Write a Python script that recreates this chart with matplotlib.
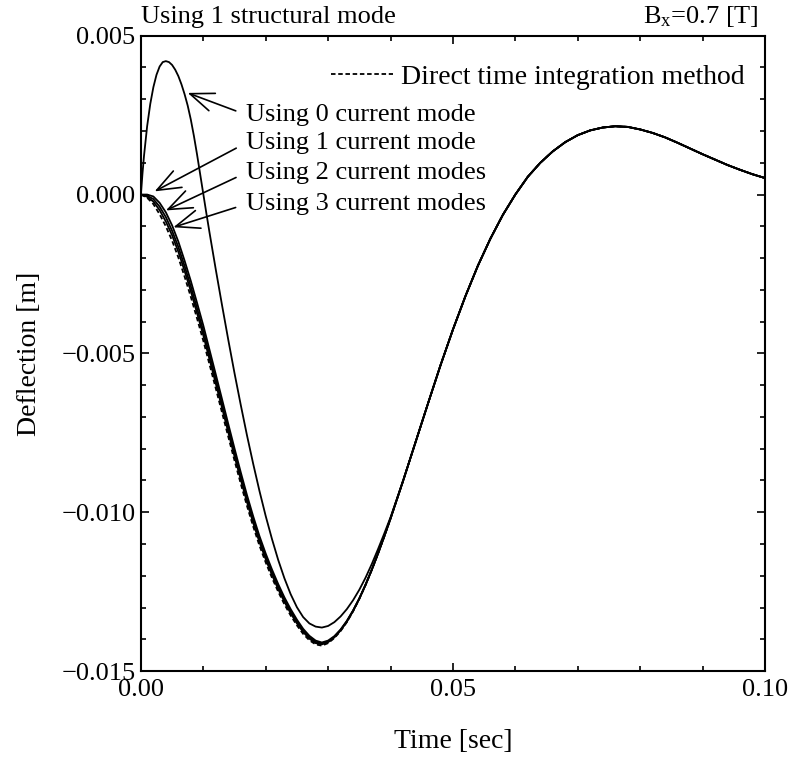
import numpy as np
import matplotlib.pyplot as plt
from matplotlib.ticker import MultipleLocator, FuncFormatter

plt.rcParams['font.family'] = ['Liberation Serif', 'DejaVu Serif']
plt.rcParams['mathtext.default'] = 'regular'

# time in ms, deflection in mm (scaled to s and m below)
t_early = list(range(0, 41))
t_tail = list(range(42, 101, 2))

direct_early = [0.00, -0.10, -0.30, -0.62, -1.00, -1.45, -1.98, -2.58, -3.22, -3.90,
                -4.60, -5.35, -6.10, -6.86, -7.62, -8.37, -9.10, -9.80, -10.45, -11.05,
                -11.58, -12.06, -12.50, -12.90, -13.25, -13.56, -13.83, -14.03, -14.16, -14.20,
                -14.12, -13.96, -13.74, -13.46, -13.12, -12.73, -12.29, -11.81, -11.30, -10.76,
                -10.20]
mode1_early = [0.00, 0.00, -0.06, -0.26, -0.56, -0.97, -1.48, -2.08, -2.72, -3.41,
               -4.12, -4.89, -5.66, -6.44, -7.22, -7.99, -8.74, -9.46, -10.13, -10.75,
               -11.30, -11.80, -12.26, -12.68, -13.05, -13.38, -13.67, -13.89, -14.04, -14.10,
               -14.04, -13.90, -13.69, -13.42, -13.09, -12.71, -12.28, -11.81, -11.30, -10.76,
               -10.20]
mode2_early = [0.00, -0.04, -0.14, -0.38, -0.71, -1.14, -1.65, -2.25, -2.89, -3.58,
               -4.29, -5.05, -5.81, -6.59, -7.36, -8.12, -8.87, -9.58, -10.24, -10.85,
               -11.40, -11.89, -12.34, -12.76, -13.12, -13.44, -13.73, -13.94, -14.08, -14.13,
               -14.07, -13.92, -13.71, -13.43, -13.10, -12.72, -12.28, -11.81, -11.30, -10.76,
               -10.20]
mode3_early = [0.00, -0.07, -0.22, -0.49, -0.85, -1.28, -1.80, -2.40, -3.04, -3.73,
               -4.43, -5.19, -5.95, -6.71, -7.48, -8.24, -8.97, -9.68, -10.34, -10.94,
               -11.48, -11.97, -12.42, -12.82, -13.18, -13.50, -13.77, -13.98, -14.12, -14.16,
               -14.09, -13.94, -13.72, -13.45, -13.11, -12.72, -12.29, -11.81, -11.30, -10.76,
               -10.20]

t_mode0 = [0, 0.25, 0.5, 1.0, 1.5, 2.0, 2.5, 3.0, 3.5, 4.0, 4.5, 5.0, 5.5, 6.0, 6.5,
           7.0, 7.5, 8.0, 8.5, 9.0, 9.5, 10.0, 10.5, 11, 12, 13, 14, 15, 16, 17, 18, 19,
           20, 21, 22, 23, 24, 25, 26, 27, 28, 29, 30, 31, 32, 33, 34, 35, 36, 37, 38, 39, 40]
mode0_early = [0.00, 0.65, 1.22, 2.15, 2.85, 3.38, 3.77, 4.03, 4.17, 4.20, 4.17, 4.08, 3.93,
               3.73, 3.47, 3.16, 2.80, 2.36, 1.84, 1.26, 0.64, 0.02, -0.60, -1.20, -2.36,
               -3.48, -4.57, -5.62, -6.62, -7.58, -8.48, -9.33, -10.12, -10.84, -11.50,
               -12.08, -12.58, -12.99, -13.30, -13.50, -13.60, -13.63, -13.58, -13.46, -13.28,
               -13.05, -12.77, -12.44, -12.06, -11.63, -11.16, -10.67, -10.16]

# all solutions coincide after ~40 ms
tail = [-9.02, -7.80, -6.58, -5.38, -4.25, -3.20, -2.24, -1.39, -0.64, 0.00,
        0.56, 1.00, 1.36, 1.65, 1.87, 2.02, 2.11, 2.15, 2.13, 2.05,
        1.94, 1.80, 1.63, 1.45, 1.27, 1.10, 0.93, 0.78, 0.64, 0.52]

labels = ['Using 0 current mode', 'Using 1 current mode',
          'Using 2 current modes', 'Using 3 current modes']
label_y = [2.51, 1.63, 0.69, -0.30]
arrow_tip = [(7.5, 3.2), (2.2, 0.1), (4.0, -0.5), (5.2, -1.03)]


def sec(v):
    return np.array(v) * 1e-3


t = sec(t_early + t_tail)
fig = plt.figure(figsize=(7.96, 7.6), dpi=100)
ax = fig.add_axes([0.177, 0.117, 0.784, 0.836])

ax.plot(t, sec(direct_early + tail), color='black', lw=1.3, dashes=(2.5, 1.5),
        label='Direct time integration method')
ax.plot(sec(t_mode0 + t_tail), sec(mode0_early + tail), color='black', lw=1.3)
for m in (mode1_early, mode2_early, mode3_early):
    ax.plot(t, sec(m + tail), color='black', lw=1.3)

for lab, ly, tip in zip(labels, label_y, arrow_tip):
    ax.annotate(lab, xy=sec(tip), xytext=(0.0169, ly * 1e-3), fontsize=19,
                ha='left', va='center',
                arrowprops=dict(arrowstyle='->,head_length=0.9,head_width=0.35',
                                color='black', lw=1.2, relpos=(0, 0.5),
                                shrinkA=6, shrinkB=0))

ax.set_xlim(0, 0.1)
ax.set_ylim(-0.015, 0.005)
ax.xaxis.set_major_locator(MultipleLocator(0.05))
ax.xaxis.set_minor_locator(MultipleLocator(0.01))
ax.yaxis.set_major_locator(MultipleLocator(0.005))
ax.yaxis.set_minor_locator(MultipleLocator(0.001))
ax.xaxis.set_major_formatter(FuncFormatter(lambda v, p: '%.2f' % v))
ax.yaxis.set_major_formatter(FuncFormatter(lambda v, p: ('%.3f' % v).replace('-', '\u2212')))
ax.tick_params(which='both', direction='in', top=True, right=True, labelsize=19, width=1.2)
ax.tick_params(which='major', length=6)
ax.tick_params(which='minor', length=3.5)
ax.tick_params(axis='x', pad=6)
ax.tick_params(axis='y', pad=4)
for s in ax.spines.values():
    s.set_linewidth(1.5)

ax.set_xlabel('Time [sec]', fontsize=20, labelpad=20)
ax.set_ylabel('Deflection [m]', fontsize=20, labelpad=14)

ax.text(0.0, 1.02, 'Using 1 structural mode', transform=ax.transAxes, fontsize=19,
        ha='left', va='baseline')
ax.text(0.99, 1.02, r'B$_x$=0.7 [T]', transform=ax.transAxes, fontsize=19,
        ha='right', va='baseline')

ax.legend(loc='upper right', bbox_to_anchor=(0.985, 0.972), frameon=False, fontsize=20,
          handlelength=2.2, handletextpad=0.3, borderaxespad=0)

fig.savefig('out.png', dpi=100)
